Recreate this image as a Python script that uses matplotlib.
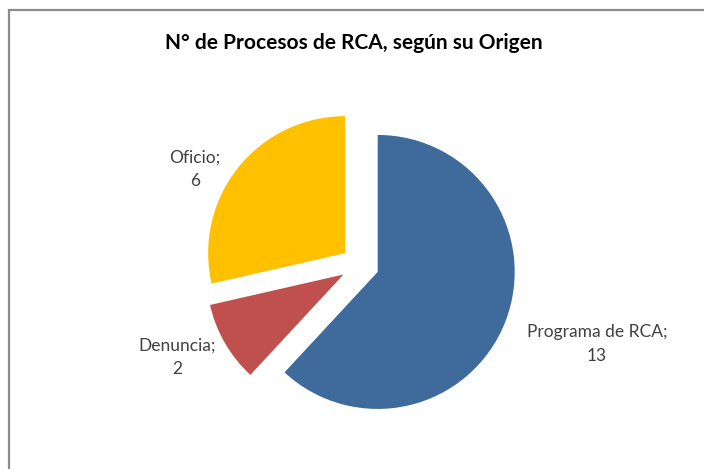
import matplotlib
matplotlib.use("Agg")
import matplotlib.pyplot as plt
from matplotlib.patches import Rectangle

categories = ["Programa de RCA", "Denuncia", "Oficio"]
values = [13, 2, 6]
colors = ["#3E6A9C", "#C0504D", "#FFC000"]
title = "N° de Procesos de RCA, según su Origen"

W, H = 704, 469
fig = plt.figure(figsize=(W / 100, H / 100), dpi=100)
ax = fig.add_axes([0, 0, 1, 1])
ax.set_xlim(0, W)
ax.set_ylim(0, H)
ax.axis("off")

ax.pie(values, colors=colors, startangle=90, counterclock=False,
       center=(360, H - 265), radius=137, explode=[19] * len(values),
       wedgeprops=dict(linewidth=0))
ax.set_xlim(0, W)
ax.set_ylim(0, H)
ax.set_aspect("equal")

label_pos = [(597, H - 344), (177, H - 357), (195, H - 169)]
for cat, val, (x, y) in zip(categories, values, label_pos):
    ax.text(x, y, f"{cat};\n{val}", ha="center", va="center",
            fontsize=12.5, family="Lato", color="#404040", linespacing=1.55)

ax.text(354, H - 43, title, ha="center", va="center", fontsize=15,
        family="Lato", fontweight="bold", color="#000000")

ax.add_patch(Rectangle((8.5, -20), 800, H - 9.5 + 20, fill=False,
                       edgecolor="#8C8C8C", linewidth=1.6, clip_on=False))

fig.savefig("out.png", dpi=100)
